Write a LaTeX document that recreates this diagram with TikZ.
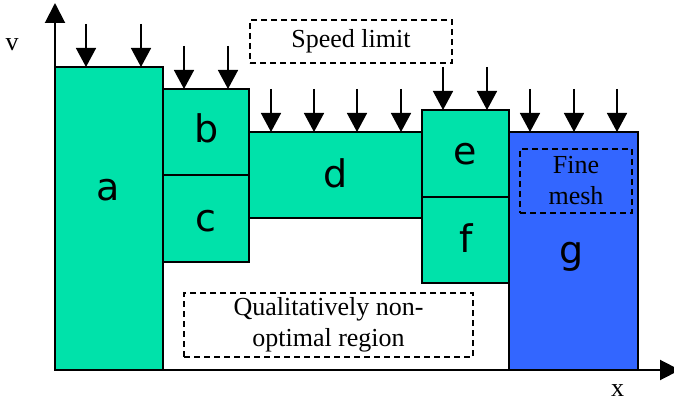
\documentclass[tikz,border=0pt]{standalone}
\usepackage{fontspec}
\setmainfont{Liberation Serif}
\newfontfamily\lblfont{DejaVu Sans}
\usetikzlibrary{arrows.meta}
\definecolor{zgreen}{RGB}{0,226,170}
\definecolor{zblue}{RGB}{51,102,255}
\newcommand{\pushdown}[2]{%
  \foreach \px in {#1} {\draw[parr] (\px,#2+43) -- (\px,#2);}}
\tikzset{
  zone/.style={draw=black, line width=1.5pt},
  zlab/.style={font=\lblfont\fontsize{38}{40}\selectfont, anchor=base, inner sep=0pt},
  note/.style={draw=black, line width=1.3pt, dash pattern=on 6pt off 4pt,
      align=center, inner sep=0pt, font=\fontsize{26}{31}\selectfont},
  parr/.style={-{Triangle[length=19pt,width=20pt]}, line width=1.5pt},
  ax/.style={-{Triangle[length=20pt,width=20pt]}, line width=2pt},
  axlab/.style={font=\fontsize{26}{30}\selectfont, inner sep=0pt},
}

\begin{document}
\begin{tikzpicture}[x=1pt,y=1pt]
\useasboundingbox (0,0) rectangle (674,402);
% regions
\draw[zone, fill=zgreen] (55,32) rectangle (163,335);
\draw[zone, fill=zgreen] (163,227) rectangle (249,313);
\draw[zone, fill=zgreen] (163,140) rectangle (249,227);
\draw[zone, fill=zgreen] (249,184) rectangle (422,270);
\draw[zone, fill=zgreen] (422,205) rectangle (509,292);
\draw[zone, fill=zgreen] (422,119) rectangle (509,205);
\draw[zone, fill=zblue] (509,32) rectangle (638,270);
\node[zlab] (la) at (108,201) {a};
\node[zlab] (lb) at (207,259) {b};
\node[zlab] (lc) at (206,171) {c};
\node[zlab] (ld) at (336,214) {d};
\node[zlab] (le) at (465,237) {e};
\node[zlab] (lf) at (466,150) {f};
\node[zlab] (lg) at (572,139) {g};
% speed limit pushes
\pushdown{86,141}{335}
\pushdown{184,228}{313}
\pushdown{271,314,357,401}{270}
\pushdown{443,487}{292}
\pushdown{530,574,617}{270}
% notes
\node[note, minimum width=202pt, minimum height=43pt] (speed) at (351,360.5) {Speed limit};
\node[note, minimum width=289pt, minimum height=64pt] (nonopt) at (328.5,77) {Qualitatively non-\\optimal region};
\node[note, minimum width=112pt, minimum height=64pt] (fine) at (576,221) {Fine\\mesh};
% axes
\coordinate (o) at (55,32);
\coordinate (vtip) at (55,399);
\coordinate (xtip) at (680,32);
\draw[ax] (o) -- (vtip);
\draw[ax] (o) -- (xtip);
\node[axlab] (vlab) at (12,357.5) {v};
\node[axlab] (xlab) at (617.5,11) {x};
\end{tikzpicture}
\end{document}
